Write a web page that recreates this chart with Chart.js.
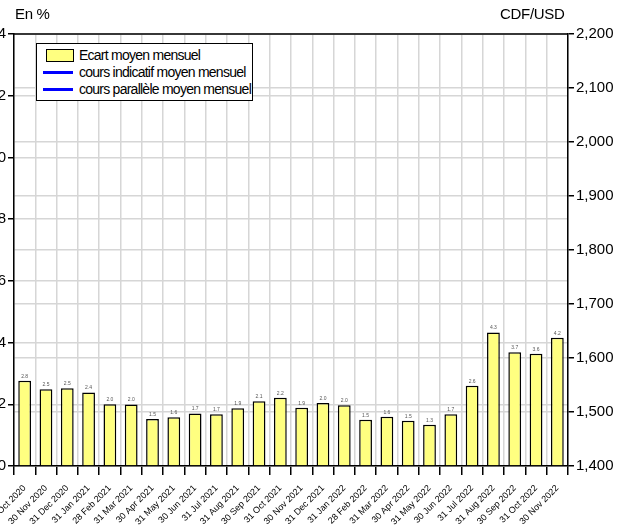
<!DOCTYPE html>
<html>
<head>
<meta charset="utf-8">
<script src="https://cdn.jsdelivr.net/npm/chart.js@4.4.0/dist/chart.umd.min.js"></script>
<style>
    html, body { margin: 0; padding: 0; background: #fff; }
    #page { position: relative; width: 633px; height: 528px; overflow: hidden; font-family: "Liberation Sans", Arial, sans-serif; }
    #wrap { position: absolute; left: -30px; top: 0; width: 663px; height: 528px; }
    .title { position: absolute; top: 5px; font-size: 15px; color: #000; letter-spacing: -0.3px; }
    #legend { position: absolute; left: 36px; top: 43px; width: 215px; height: 56px; border: 1.5px solid #000; background: #fff; font-size: 14px; letter-spacing: -0.75px; }
    #legend .item { position: absolute; left: 6px; height: 17px; line-height: 17px; white-space: nowrap; }
    #legend .sw { position: absolute; left: 0; }
    #legend .txt { position: absolute; left: 36px; top: 0; }
</style>
</head>
<body>
<div id="page">
    <div id="wrap"><canvas id="chart"></canvas></div>
    <div class="title" style="left:15px;">En %</div>
    <div class="title" style="left:500px;">CDF/USD</div>
    <div id="legend"></div>
</div>
<script>
    // month ends, Oct 2020 - Nov 2022
    const labels = [
        '31 Oct 2020', '30 Nov 2020', '31 Dec 2020', '31 Jan 2021', '28 Feb 2021', '31 Mar 2021',
        '30 Apr 2021', '31 May 2021', '30 Jun 2021', '31 Jul 2021', '31 Aug 2021', '30 Sep 2021',
        '31 Oct 2021', '30 Nov 2021', '31 Dec 2021', '31 Jan 2022', '28 Feb 2022', '31 Mar 2022',
        '30 Apr 2022', '31 May 2022', '30 Jun 2022', '31 Jul 2022', '31 Aug 2022', '30 Sep 2022',
        '31 Oct 2022', '30 Nov 2022'
    ];

    // Ecart moyen mensuel (%)
    const ecart = [
        2.76, 2.49, 2.52, 2.38, 2.0, 1.99, 1.52, 1.58, 1.7, 1.68, 1.87, 2.1,
        2.21, 1.89, 2.04, 1.97, 1.5, 1.6, 1.47, 1.34, 1.68, 2.6, 4.33, 3.69,
        3.64, 4.16
    ];

    // the two rate series have no visible points in the picture
    const coursIndicatif = [];
    const coursParallele = [];

    const leftTicks = [0, 2, 4, 6, 8, 10, 12, 14];
    const rightTicks = [1400, 1500, 1600, 1700, 1800, 1900, 2000, 2100, 2200];

    const gridColor = '#d6d6d6';

    const valueLabels = {
        id: 'valueLabels',
        afterDatasetsDraw(chart) {
            const ctx = chart.ctx;
            const meta = chart.getDatasetMeta(0);
            ctx.save();
            ctx.font = '5px "Liberation Sans", Arial, sans-serif';
            ctx.fillStyle = '#555';
            ctx.textAlign = 'center';
            ctx.textBaseline = 'bottom';
            meta.data.forEach((bar, i) => {
                ctx.fillText(ecart[i].toFixed(1), bar.x, bar.y - 2);
            });
            ctx.restore();
        }
    };

    const frameTop = {
        id: 'frameTop',
        afterDraw(chart) {
            const a = chart.chartArea;
            const ctx = chart.ctx;
            ctx.save();
            ctx.strokeStyle = '#000';
            ctx.lineWidth = 1.5;
            ctx.beginPath();
            ctx.moveTo(a.left, a.top);
            ctx.lineTo(a.right, a.top);
            ctx.stroke();
            ctx.restore();
        }
    };

    const chart = new Chart(document.getElementById('chart'), {
        data: {
            labels: labels,
            datasets: [
                {
                    type: 'bar',
                    label: 'Ecart moyen mensuel',
                    data: ecart,
                    yAxisID: 'y',
                    backgroundColor: '#ffff80',
                    borderColor: '#000',
                    borderWidth: 1.5,
                    categoryPercentage: 1,
                    barPercentage: 0.6
                },
                {
                    type: 'line',
                    label: 'cours indicatif moyen mensuel',
                    data: coursIndicatif,
                    yAxisID: 'y1',
                    borderColor: '#0000ff',
                    borderWidth: 2,
                    pointRadius: 0
                },
                {
                    type: 'line',
                    label: 'cours parallèle moyen mensuel',
                    data: coursParallele,
                    yAxisID: 'y1',
                    borderColor: '#0000ff',
                    borderWidth: 2,
                    pointRadius: 0
                }
            ]
        },
        options: {
            responsive: true,
            maintainAspectRatio: false,
            animation: false,
            layout: { padding: { top: 34, left: 0, right: 0, bottom: 0 } },
            plugins: {
                legend: { display: false },
                tooltip: { enabled: false }
            },
            scales: {
                x: {
                    offset: true,
                    grid: { offset: true, color: gridColor, lineWidth: 1.5, tickColor: '#000', tickLength: 9 },
                    border: { color: '#000', width: 1.5 },
                    ticks: {
                        autoSkip: false,
                        minRotation: 45,
                        maxRotation: 45,
                        padding: 8,
                        color: '#000',
                        font: { family: '"Liberation Sans", Arial, sans-serif', size: 9 }
                    },
                    afterFit: (s) => { s.height = 62; }
                },
                y: {
                    position: 'left',
                    min: 0,
                    max: 14,
                    afterBuildTicks: (s) => { s.ticks = leftTicks.map(v => ({ value: v })); },
                    grid: { color: gridColor, lineWidth: 1.5, tickColor: '#000', tickLength: 6 },
                    border: { color: '#000', width: 1.5 },
                    ticks: {
                        color: '#000',
                        padding: 2,
                        font: { family: '"Liberation Sans", Arial, sans-serif', size: 15 }
                    },
                    afterFit: (s) => { s.width = 44; }
                },
                y1: {
                    position: 'right',
                    min: 1400,
                    max: 2200,
                    afterBuildTicks: (s) => { s.ticks = rightTicks.map(v => ({ value: v })); },
                    grid: { color: gridColor, lineWidth: 1.5, tickColor: '#000', tickLength: 6 },
                    border: { color: '#000', width: 1.5 },
                    ticks: {
                        color: '#000',
                        padding: 2,
                        callback: (v) => v.toLocaleString('en-US'),
                        font: { family: '"Liberation Sans", Arial, sans-serif', size: 15 }
                    },
                    afterFit: (s) => { s.width = 65; }
                }
            }
        },
        plugins: [valueLabels, frameTop]
    });

    // legend box drawn from the dataset labels
    const legend = document.getElementById('legend');
    chart.data.datasets.forEach((ds, i) => {
        const item = document.createElement('div');
        item.className = 'item';
        item.style.top = (3 + i * 17) + 'px';
        const sw = document.createElement('div');
        sw.className = 'sw';
        if (ds.type === 'bar') {
            sw.style.cssText = 'left:3px;top:2px;width:26px;height:11px;border:1.5px solid #000;background:' + ds.backgroundColor;
        } else {
            sw.style.cssText = 'left:0;top:7px;width:30px;height:2.5px;background:' + ds.borderColor;
        }
        const txt = document.createElement('span');
        txt.className = 'txt';
        txt.textContent = ds.label;
        item.appendChild(sw);
        item.appendChild(txt);
        legend.appendChild(item);
    });
</script>
</body>
</html>
